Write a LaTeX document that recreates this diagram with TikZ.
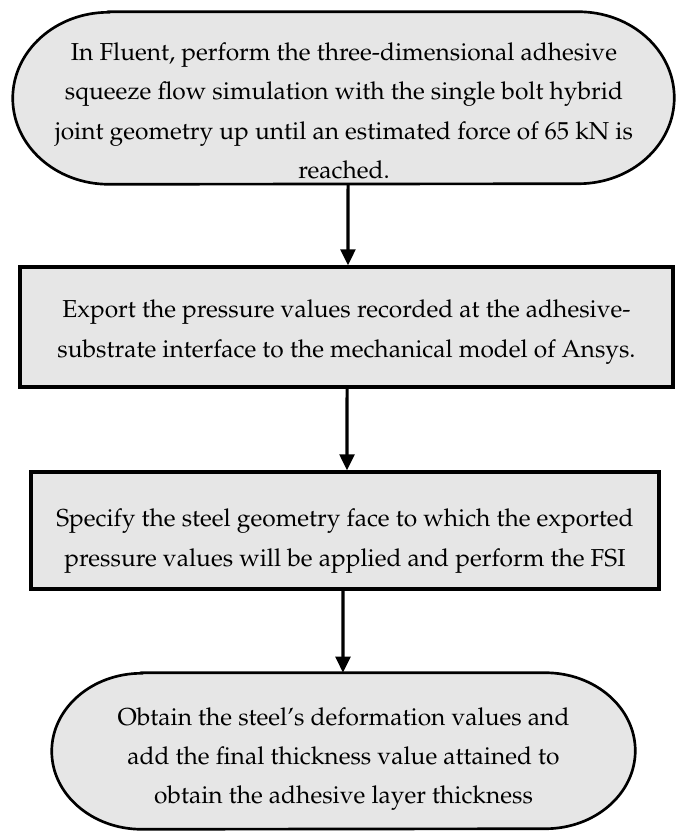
\documentclass[tikz,border=0pt]{standalone}
\usepackage[T1]{fontenc}
\usepackage{mathpazo}
\usetikzlibrary{arrows.meta}
\definecolor{boxfill}{RGB}{230,230,230}
\tikzset{
  x=0.75pt, y=0.75pt,
  frame/.style={draw=none, fill=none, inner sep=0pt},
  termline/.style={draw=black, fill=boxfill, line width=2pt},
  procbox/.style={rectangle, draw=black, fill=boxfill, line width=2.4pt, inner sep=0pt},
  txt/.style={align=center, font=\fontsize{18.4}{29.5}\selectfont, inner sep=0pt},
  arr/.style={line width=2.3pt, -{Triangle[length=12pt,width=11pt]}}
}
\begin{document}
\begin{tikzpicture}
\useasboundingbox (0,0) rectangle (675,-832);

% --- top terminator
\node[frame, minimum width=495.75pt, minimum height=129pt] (t1) at (343.5,-98) {};
\draw[termline] ([xshift=72pt]t1.north west) -- ([xshift=-72pt]t1.north east)
  arc[start angle=90, end angle=-90, x radius=72pt, y radius=64.5pt]
  -- ([xshift=72pt]t1.south west)
  arc[start angle=270, end angle=90, x radius=72pt, y radius=64.5pt] -- cycle;
\node[txt] (tx1) at (344,-111) {In Fluent, perform the three-dimensional adhesive\\
squeeze flow simulation with the single bolt hybrid\\
joint geometry up until an estimated force of 65 kN is\\
reached.};

% --- process box 2
\node[procbox, minimum width=489.75pt, minimum height=90pt] (b2) at (346.5,-327) {};
\node[txt] (tx2) at (346.5,-332) {Export the pressure values recorded at the adhesive-\\
substrate interface to the mechanical model of Ansys.};

% --- process box 3
\node[procbox, minimum width=471pt, minimum height=87.75pt] (b3) at (345,-530.5) {};
\node[txt] (tx3) at (345,-541) {Specify the steel geometry face to which the exported\\
pressure values will be applied and perform the FSI};

% --- bottom terminator
\node[frame, minimum width=437.25pt, minimum height=117pt] (t4) at (343.5,-751) {};
\draw[termline] ([xshift=67.5pt]t4.north west) -- ([xshift=-67.5pt]t4.north east)
  arc[start angle=90, end angle=-90, x radius=67.5pt, y radius=58.5pt]
  -- ([xshift=67.5pt]t4.south west)
  arc[start angle=270, end angle=90, x radius=67.5pt, y radius=58.5pt] -- cycle;
\node[txt] (tx4) at (343.5,-759) {Obtain the steel's deformation values and\\
add the final thickness value attained to\\
obtain the adhesive layer thickness};

% --- connectors
\draw[arr] ([xshift=3.4pt]t1.south) -- ([xshift=1.1pt]b2.north);
\draw[arr] ([xshift=0.4pt]b2.south) -- ([xshift=1.5pt]b3.north);
\draw[arr] ([xshift=-1.5pt]b3.south) -- ([xshift=-0.4pt]t4.north);
\end{tikzpicture}
\end{document}
